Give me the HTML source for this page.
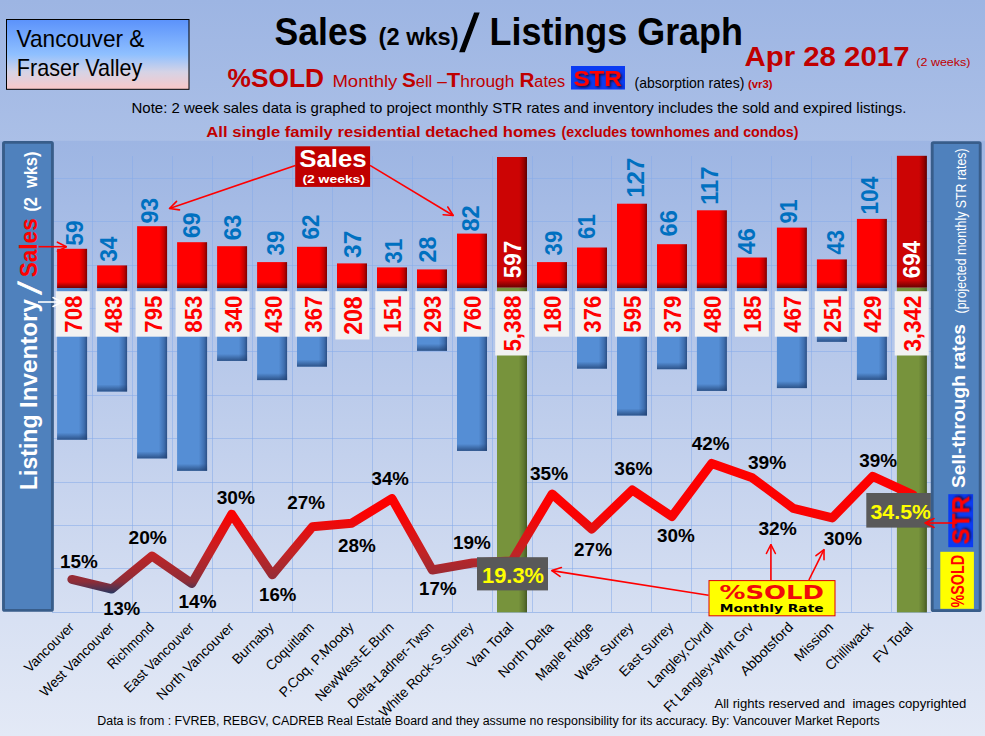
<!DOCTYPE html>
<html lang="en"><head><meta charset="utf-8"><title>Sales / Listings Graph</title>
<style>html,body{margin:0;padding:0;background:#9db5e3;}svg{display:block}text{font-family:"Liberation Sans",Arial,sans-serif;white-space:pre}.dj{font-family:"DejaVu Sans","Liberation Sans",sans-serif}</style></head><body>
<svg width="985" height="736" viewBox="0 0 985 736">
<defs>
<linearGradient id="bg" x1="0" y1="0" x2="0" y2="1"><stop offset="0" stop-color="#9db5e3"/><stop offset="1" stop-color="#e3e9f6"/></linearGradient>
<linearGradient id="plot" x1="0" y1="0" x2="0" y2="1"><stop offset="0" stop-color="#9db5e3"/><stop offset="1" stop-color="#d6dff2"/></linearGradient>
<linearGradient id="vbox" x1="0" y1="0" x2="0" y2="1"><stop offset="0" stop-color="#5b92fb"/><stop offset="0.5" stop-color="#8fc0ff"/><stop offset="0.75" stop-color="#d5d3e6"/><stop offset="1" stop-color="#fac8c8"/></linearGradient>
<linearGradient id="redh" x1="0" y1="0" x2="1" y2="0"><stop offset="0" stop-color="#f00"/><stop offset="0.74" stop-color="#f00"/><stop offset="0.9" stop-color="#c40000"/><stop offset="1" stop-color="#7c0000"/></linearGradient>
<linearGradient id="dredh" x1="0" y1="0" x2="1" y2="0"><stop offset="0" stop-color="#cc0404"/><stop offset="0.74" stop-color="#cc0404"/><stop offset="0.9" stop-color="#960000"/><stop offset="1" stop-color="#5c0000"/></linearGradient>
<linearGradient id="botsh" x1="0" y1="0" x2="0" y2="1"><stop offset="0" stop-color="#400" stop-opacity="0"/><stop offset="1" stop-color="#400" stop-opacity="0.72"/></linearGradient>
<linearGradient id="blueh" x1="0" y1="0" x2="1" y2="0"><stop offset="0" stop-color="#558ed5"/><stop offset="0.72" stop-color="#558ed5"/><stop offset="0.9" stop-color="#3f6fb0"/><stop offset="1" stop-color="#2b4f85"/></linearGradient>
<linearGradient id="bbotsh" x1="0" y1="0" x2="0" y2="1"><stop offset="0" stop-color="#1f3f70" stop-opacity="0"/><stop offset="1" stop-color="#1f3f70" stop-opacity="0.75"/></linearGradient>
<linearGradient id="greenh" x1="0" y1="0" x2="1" y2="0"><stop offset="0" stop-color="#77933c"/><stop offset="0.72" stop-color="#77933c"/><stop offset="0.9" stop-color="#5d7530"/><stop offset="1" stop-color="#445822"/></linearGradient>
<linearGradient id="lineg" gradientUnits="userSpaceOnUse" x1="0" y1="455" x2="0" y2="596"><stop offset="0" stop-color="#ff0000"/><stop offset="0.42" stop-color="#fb0202"/><stop offset="0.7" stop-color="#c02426"/><stop offset="0.9" stop-color="#8d2d38"/><stop offset="0.99" stop-color="#1f3864"/></linearGradient>
<marker id="ah" viewBox="0 0 12 12" refX="11" refY="6" markerWidth="12" markerHeight="12" markerUnits="userSpaceOnUse" orient="auto"><path d="M2,1.5 L11,6 L2,10.5" fill="none" stroke="#f00" stroke-width="1.6" stroke-linecap="round" stroke-linejoin="round"/></marker>
<marker id="ahw" viewBox="0 0 12 12" refX="11" refY="6" markerWidth="12" markerHeight="12" markerUnits="userSpaceOnUse" orient="auto"><path d="M2,1.5 L11,6 L2,10.5" fill="none" stroke="#fff" stroke-width="1.6" stroke-linecap="round" stroke-linejoin="round"/></marker>
<filter id="sh" x="-20%" y="-20%" width="150%" height="150%"><feDropShadow dx="1.4" dy="1.4" stdDeviation="0.9" flood-color="#200" flood-opacity="0.85"/></filter>
</defs>
<rect width="985" height="736" fill="url(#bg)"/>
<rect x="0" y="140.8" width="985" height="471.4" fill="url(#plot)"/>
<path d="M52,178.5H931 M52,221.5H931 M52,265.5H931 M52,308.5H931 M52,351.5H931 M52,395.5H931 M52,438.5H931 M52,482.5H931 M52,525.5H931 M52,568.5H931 M92.5,156V612 M132.5,156V612 M172.5,156V612 M212.5,156V612 M252.5,156V612 M292.5,156V612 M332.5,156V612 M372.5,156V612 M412.5,156V612 M452.5,156V612 M492.5,156V612 M532.5,156V612 M572.5,156V612 M611.5,156V612 M651.5,156V612 M691.5,156V612 M731.5,156V612 M771.5,156V612 M811.5,156V612 M851.5,156V612 M891.5,156V612" stroke="#86abea" stroke-width="1" fill="none" opacity="0.55"/>
<path d="M52,612.5H931" stroke="#a3bdea" stroke-width="1" fill="none"/>
<rect x="57.1" y="288.0" width="30" height="151.7" fill="url(#blueh)"/>
<rect x="57.1" y="432.7" width="30" height="7.0" fill="url(#bbotsh)"/>
<rect x="97.1" y="288.0" width="30" height="103.5" fill="url(#blueh)"/>
<rect x="97.1" y="384.5" width="30" height="7.0" fill="url(#bbotsh)"/>
<rect x="137.1" y="288.0" width="30" height="170.4" fill="url(#blueh)"/>
<rect x="137.1" y="451.4" width="30" height="7.0" fill="url(#bbotsh)"/>
<rect x="177.1" y="288.0" width="30" height="182.8" fill="url(#blueh)"/>
<rect x="177.1" y="463.8" width="30" height="7.0" fill="url(#bbotsh)"/>
<rect x="217.1" y="288.0" width="30" height="72.9" fill="url(#blueh)"/>
<rect x="217.1" y="353.9" width="30" height="7.0" fill="url(#bbotsh)"/>
<rect x="257.1" y="288.0" width="30" height="92.1" fill="url(#blueh)"/>
<rect x="257.1" y="373.1" width="30" height="7.0" fill="url(#bbotsh)"/>
<rect x="297.0" y="288.0" width="30" height="78.6" fill="url(#blueh)"/>
<rect x="297.0" y="359.6" width="30" height="7.0" fill="url(#bbotsh)"/>
<rect x="337.0" y="288.0" width="30" height="44.6" fill="url(#blueh)"/>
<rect x="337.0" y="325.6" width="30" height="7.0" fill="url(#bbotsh)"/>
<rect x="377.0" y="288.0" width="30" height="32.4" fill="url(#blueh)"/>
<rect x="377.0" y="313.4" width="30" height="7.0" fill="url(#bbotsh)"/>
<rect x="417.0" y="288.0" width="30" height="62.8" fill="url(#blueh)"/>
<rect x="417.0" y="343.8" width="30" height="7.0" fill="url(#bbotsh)"/>
<rect x="457.0" y="288.0" width="30" height="162.9" fill="url(#blueh)"/>
<rect x="457.0" y="443.9" width="30" height="7.0" fill="url(#bbotsh)"/>
<rect x="497.0" y="287.4" width="30" height="325.0" fill="url(#greenh)"/>
<rect x="537.0" y="288.0" width="30" height="38.6" fill="url(#blueh)"/>
<rect x="537.0" y="319.6" width="30" height="7.0" fill="url(#bbotsh)"/>
<rect x="577.0" y="288.0" width="30" height="80.6" fill="url(#blueh)"/>
<rect x="577.0" y="361.6" width="30" height="7.0" fill="url(#bbotsh)"/>
<rect x="617.0" y="288.0" width="30" height="127.5" fill="url(#blueh)"/>
<rect x="617.0" y="408.5" width="30" height="7.0" fill="url(#bbotsh)"/>
<rect x="657.0" y="288.0" width="30" height="81.2" fill="url(#blueh)"/>
<rect x="657.0" y="362.2" width="30" height="7.0" fill="url(#bbotsh)"/>
<rect x="696.9" y="288.0" width="30" height="102.9" fill="url(#blueh)"/>
<rect x="696.9" y="383.9" width="30" height="7.0" fill="url(#bbotsh)"/>
<rect x="736.9" y="288.0" width="30" height="39.6" fill="url(#blueh)"/>
<rect x="736.9" y="320.6" width="30" height="7.0" fill="url(#bbotsh)"/>
<rect x="776.9" y="288.0" width="30" height="100.1" fill="url(#blueh)"/>
<rect x="776.9" y="381.1" width="30" height="7.0" fill="url(#bbotsh)"/>
<rect x="816.9" y="288.0" width="30" height="53.8" fill="url(#blueh)"/>
<rect x="816.9" y="334.8" width="30" height="7.0" fill="url(#bbotsh)"/>
<rect x="856.9" y="288.0" width="30" height="91.9" fill="url(#blueh)"/>
<rect x="856.9" y="372.9" width="30" height="7.0" fill="url(#bbotsh)"/>
<rect x="896.9" y="287.4" width="30" height="325.0" fill="url(#greenh)"/>
<rect x="57.1" y="248.8" width="30" height="39.2" fill="url(#redh)"/>
<rect x="57.1" y="282.0" width="30" height="6" fill="url(#botsh)"/>
<rect x="97.1" y="265.4" width="30" height="22.6" fill="url(#redh)"/>
<rect x="97.1" y="282.0" width="30" height="6" fill="url(#botsh)"/>
<rect x="137.1" y="226.2" width="30" height="61.8" fill="url(#redh)"/>
<rect x="137.1" y="282.0" width="30" height="6" fill="url(#botsh)"/>
<rect x="177.1" y="242.2" width="30" height="45.8" fill="url(#redh)"/>
<rect x="177.1" y="282.0" width="30" height="6" fill="url(#botsh)"/>
<rect x="217.1" y="246.2" width="30" height="41.8" fill="url(#redh)"/>
<rect x="217.1" y="282.0" width="30" height="6" fill="url(#botsh)"/>
<rect x="257.1" y="262.1" width="30" height="25.9" fill="url(#redh)"/>
<rect x="257.1" y="282.0" width="30" height="6" fill="url(#botsh)"/>
<rect x="297.0" y="246.8" width="30" height="41.2" fill="url(#redh)"/>
<rect x="297.0" y="282.0" width="30" height="6" fill="url(#botsh)"/>
<rect x="337.0" y="263.4" width="30" height="24.6" fill="url(#redh)"/>
<rect x="337.0" y="282.0" width="30" height="6" fill="url(#botsh)"/>
<rect x="377.0" y="267.4" width="30" height="20.6" fill="url(#redh)"/>
<rect x="377.0" y="282.0" width="30" height="6" fill="url(#botsh)"/>
<rect x="417.0" y="269.4" width="30" height="18.6" fill="url(#redh)"/>
<rect x="417.0" y="282.0" width="30" height="6" fill="url(#botsh)"/>
<rect x="457.0" y="233.6" width="30" height="54.4" fill="url(#redh)"/>
<rect x="457.0" y="282.0" width="30" height="6" fill="url(#botsh)"/>
<rect x="497.0" y="157.0" width="30" height="130.4" fill="url(#dredh)"/>
<rect x="497.0" y="280.4" width="30" height="7" fill="url(#botsh)"/>
<rect x="537.0" y="262.1" width="30" height="25.9" fill="url(#redh)"/>
<rect x="537.0" y="282.0" width="30" height="6" fill="url(#botsh)"/>
<rect x="577.0" y="247.5" width="30" height="40.5" fill="url(#redh)"/>
<rect x="577.0" y="282.0" width="30" height="6" fill="url(#botsh)"/>
<rect x="617.0" y="203.7" width="30" height="84.3" fill="url(#redh)"/>
<rect x="617.0" y="282.0" width="30" height="6" fill="url(#botsh)"/>
<rect x="657.0" y="244.2" width="30" height="43.8" fill="url(#redh)"/>
<rect x="657.0" y="282.0" width="30" height="6" fill="url(#botsh)"/>
<rect x="696.9" y="210.3" width="30" height="77.7" fill="url(#redh)"/>
<rect x="696.9" y="282.0" width="30" height="6" fill="url(#botsh)"/>
<rect x="736.9" y="257.5" width="30" height="30.5" fill="url(#redh)"/>
<rect x="736.9" y="282.0" width="30" height="6" fill="url(#botsh)"/>
<rect x="776.9" y="227.6" width="30" height="60.4" fill="url(#redh)"/>
<rect x="776.9" y="282.0" width="30" height="6" fill="url(#botsh)"/>
<rect x="816.9" y="259.4" width="30" height="28.6" fill="url(#redh)"/>
<rect x="816.9" y="282.0" width="30" height="6" fill="url(#botsh)"/>
<rect x="856.9" y="218.9" width="30" height="69.1" fill="url(#redh)"/>
<rect x="856.9" y="282.0" width="30" height="6" fill="url(#botsh)"/>
<rect x="896.9" y="155.8" width="30" height="131.6" fill="url(#dredh)"/>
<rect x="896.9" y="280.4" width="30" height="7" fill="url(#botsh)"/>
<rect x="55.7" y="291.2" width="34" height="45.5" fill="#f2f2f2"/>
<text transform="translate(81.8,332.7) rotate(-90)" font-size="24" font-weight="bold" fill="#ff0000" textLength="37" lengthAdjust="spacingAndGlyphs">708</text>
<rect x="95.7" y="291.2" width="34" height="45.5" fill="#f2f2f2"/>
<text transform="translate(121.8,332.7) rotate(-90)" font-size="24" font-weight="bold" fill="#ff0000" textLength="37" lengthAdjust="spacingAndGlyphs">483</text>
<rect x="135.6" y="291.2" width="34" height="45.5" fill="#f2f2f2"/>
<text transform="translate(161.7,332.7) rotate(-90)" font-size="24" font-weight="bold" fill="#ff0000" textLength="37" lengthAdjust="spacingAndGlyphs">795</text>
<rect x="175.6" y="291.2" width="34" height="45.5" fill="#f2f2f2"/>
<text transform="translate(201.7,332.7) rotate(-90)" font-size="24" font-weight="bold" fill="#ff0000" textLength="37" lengthAdjust="spacingAndGlyphs">853</text>
<rect x="215.5" y="291.2" width="34" height="45.5" fill="#f2f2f2"/>
<text transform="translate(241.6,332.7) rotate(-90)" font-size="24" font-weight="bold" fill="#ff0000" textLength="37" lengthAdjust="spacingAndGlyphs">340</text>
<rect x="255.5" y="291.2" width="34" height="45.5" fill="#f2f2f2"/>
<text transform="translate(281.6,332.7) rotate(-90)" font-size="24" font-weight="bold" fill="#ff0000" textLength="37" lengthAdjust="spacingAndGlyphs">430</text>
<rect x="295.4" y="291.2" width="34" height="45.5" fill="#f2f2f2"/>
<text transform="translate(321.5,332.7) rotate(-90)" font-size="24" font-weight="bold" fill="#ff0000" textLength="37" lengthAdjust="spacingAndGlyphs">367</text>
<rect x="335.4" y="291.2" width="34" height="48.3" fill="#f2f2f2"/>
<text transform="translate(361.5,334.8) rotate(-90)" font-size="25" font-weight="bold" fill="#ff0000" textLength="38.5" lengthAdjust="spacingAndGlyphs">208</text>
<rect x="375.3" y="291.2" width="34" height="45.5" fill="#f2f2f2"/>
<text transform="translate(401.4,332.7) rotate(-90)" font-size="24" font-weight="bold" fill="#ff0000" textLength="37" lengthAdjust="spacingAndGlyphs">151</text>
<rect x="415.3" y="291.2" width="34" height="45.5" fill="#f2f2f2"/>
<text transform="translate(441.4,332.7) rotate(-90)" font-size="24" font-weight="bold" fill="#ff0000" textLength="37" lengthAdjust="spacingAndGlyphs">293</text>
<rect x="455.2" y="291.2" width="34" height="45.5" fill="#f2f2f2"/>
<text transform="translate(481.3,332.7) rotate(-90)" font-size="24" font-weight="bold" fill="#ff0000" textLength="37" lengthAdjust="spacingAndGlyphs">760</text>
<rect x="495.2" y="291.2" width="34" height="64.3" fill="#f2f2f2"/>
<text transform="translate(521.3,351.6) rotate(-90)" font-size="24" font-weight="bold" fill="#ff0000" textLength="56" lengthAdjust="spacingAndGlyphs">5,388</text>
<rect x="535.1" y="291.2" width="34" height="45.5" fill="#f2f2f2"/>
<text transform="translate(561.2,332.7) rotate(-90)" font-size="24" font-weight="bold" fill="#ff0000" textLength="37" lengthAdjust="spacingAndGlyphs">180</text>
<rect x="575.1" y="291.2" width="34" height="45.5" fill="#f2f2f2"/>
<text transform="translate(601.2,332.7) rotate(-90)" font-size="24" font-weight="bold" fill="#ff0000" textLength="37" lengthAdjust="spacingAndGlyphs">376</text>
<rect x="615.0" y="291.2" width="34" height="45.5" fill="#f2f2f2"/>
<text transform="translate(641.1,332.7) rotate(-90)" font-size="24" font-weight="bold" fill="#ff0000" textLength="37" lengthAdjust="spacingAndGlyphs">595</text>
<rect x="655.0" y="291.2" width="34" height="45.5" fill="#f2f2f2"/>
<text transform="translate(681.1,332.7) rotate(-90)" font-size="24" font-weight="bold" fill="#ff0000" textLength="37" lengthAdjust="spacingAndGlyphs">379</text>
<rect x="694.9" y="291.2" width="34" height="45.5" fill="#f2f2f2"/>
<text transform="translate(721.0,332.7) rotate(-90)" font-size="24" font-weight="bold" fill="#ff0000" textLength="37" lengthAdjust="spacingAndGlyphs">480</text>
<rect x="734.9" y="291.2" width="34" height="45.5" fill="#f2f2f2"/>
<text transform="translate(761.0,332.7) rotate(-90)" font-size="24" font-weight="bold" fill="#ff0000" textLength="37" lengthAdjust="spacingAndGlyphs">185</text>
<rect x="774.8" y="291.2" width="34" height="45.5" fill="#f2f2f2"/>
<text transform="translate(800.9,332.7) rotate(-90)" font-size="24" font-weight="bold" fill="#ff0000" textLength="37" lengthAdjust="spacingAndGlyphs">467</text>
<rect x="814.8" y="291.2" width="34" height="45.5" fill="#f2f2f2"/>
<text transform="translate(840.9,332.7) rotate(-90)" font-size="24" font-weight="bold" fill="#ff0000" textLength="37" lengthAdjust="spacingAndGlyphs">251</text>
<rect x="854.7" y="291.2" width="34" height="45.5" fill="#f2f2f2"/>
<text transform="translate(880.8,332.7) rotate(-90)" font-size="24" font-weight="bold" fill="#ff0000" textLength="37" lengthAdjust="spacingAndGlyphs">429</text>
<rect x="894.7" y="291.2" width="34" height="64.3" fill="#f2f2f2"/>
<text transform="translate(920.8,351.6) rotate(-90)" font-size="24" font-weight="bold" fill="#ff0000" textLength="56" lengthAdjust="spacingAndGlyphs">3,342</text>
<text transform="translate(82.6,245.8) rotate(-90)" font-size="23" font-weight="bold" fill="#0070c0" textLength="25.4" lengthAdjust="spacingAndGlyphs">59</text>
<text transform="translate(116.8,261.8) rotate(-90)" font-size="23" font-weight="bold" fill="#0070c0" textLength="25.2" lengthAdjust="spacingAndGlyphs">34</text>
<text transform="translate(157.6,223.6) rotate(-90)" font-size="23" font-weight="bold" fill="#0070c0" textLength="25.8" lengthAdjust="spacingAndGlyphs">93</text>
<text transform="translate(199.8,238.0) rotate(-90)" font-size="23" font-weight="bold" fill="#0070c0" textLength="25.6" lengthAdjust="spacingAndGlyphs">69</text>
<text transform="translate(241.0,240.2) rotate(-90)" font-size="23" font-weight="bold" fill="#0070c0" textLength="25.6" lengthAdjust="spacingAndGlyphs">63</text>
<text transform="translate(283.5,255.4) rotate(-90)" font-size="23" font-weight="bold" fill="#0070c0" textLength="24.6" lengthAdjust="spacingAndGlyphs">39</text>
<text transform="translate(318.7,239.6) rotate(-90)" font-size="23" font-weight="bold" fill="#0070c0" textLength="25.0" lengthAdjust="spacingAndGlyphs">62</text>
<text transform="translate(360.5,258.0) rotate(-90)" font-size="24" font-weight="bold" fill="#0070c0" textLength="27.4" lengthAdjust="spacingAndGlyphs">37</text>
<text transform="translate(401.6,263.4) rotate(-90)" font-size="23" font-weight="bold" fill="#0070c0" textLength="24.6" lengthAdjust="spacingAndGlyphs">31</text>
<text transform="translate(436.0,262.6) rotate(-90)" font-size="23" font-weight="bold" fill="#0070c0" textLength="26.0" lengthAdjust="spacingAndGlyphs">28</text>
<text transform="translate(479.2,231.6) rotate(-90)" font-size="23" font-weight="bold" fill="#0070c0" textLength="26.4" lengthAdjust="spacingAndGlyphs">82</text>
<text transform="translate(520.7,278.3) rotate(-90)" font-size="23.5" font-weight="bold" fill="#fff" textLength="37.5" lengthAdjust="spacingAndGlyphs">597</text>
<text transform="translate(561.6,255.4) rotate(-90)" font-size="23" font-weight="bold" fill="#0070c0" textLength="24.6" lengthAdjust="spacingAndGlyphs">39</text>
<text transform="translate(594.6,239.0) rotate(-90)" font-size="23" font-weight="bold" fill="#0070c0" textLength="24.8" lengthAdjust="spacingAndGlyphs">61</text>
<text transform="translate(644.2,197.8) rotate(-90)" font-size="23" font-weight="bold" fill="#0070c0" textLength="40.2" lengthAdjust="spacingAndGlyphs">127</text>
<text transform="translate(677.3,236.4) rotate(-90)" font-size="23" font-weight="bold" fill="#0070c0" textLength="26.4" lengthAdjust="spacingAndGlyphs">66</text>
<text transform="translate(718.0,204.8) rotate(-90)" font-size="23" font-weight="bold" fill="#0070c0" textLength="38.2" lengthAdjust="spacingAndGlyphs">117</text>
<text transform="translate(755.2,254.2) rotate(-90)" font-size="23" font-weight="bold" fill="#0070c0" textLength="26.0" lengthAdjust="spacingAndGlyphs">46</text>
<text transform="translate(796.9,223.4) rotate(-90)" font-size="23" font-weight="bold" fill="#0070c0" textLength="24.0" lengthAdjust="spacingAndGlyphs">91</text>
<text transform="translate(844.2,254.4) rotate(-90)" font-size="23" font-weight="bold" fill="#0070c0" textLength="24.4" lengthAdjust="spacingAndGlyphs">43</text>
<text transform="translate(878.0,214.6) rotate(-90)" font-size="23" font-weight="bold" fill="#0070c0" textLength="38.0" lengthAdjust="spacingAndGlyphs">104</text>
<text transform="translate(920.2,278.3) rotate(-90)" font-size="23.5" font-weight="bold" fill="#fff" textLength="37.5" lengthAdjust="spacingAndGlyphs">694</text>
<polyline points="71.9,579.4 111.8,589.0 152,556.0 191.8,583.5 231.7,514.2 272.3,574.8 312.4,526.8 351.8,523.2 391.9,498.5 432.3,570 472.5,563 512,561 552.1,494 591.8,529 632.3,490 671.9,516.5 711.7,463.4 752.3,477.8 793.3,508.3 832.3,517.9 872.7,476.3 913,494.9" fill="none" stroke="url(#lineg)" stroke-width="9" stroke-linejoin="round" stroke-linecap="round"/>
<text x="60.0" y="568.3" font-size="18" font-weight="bold" fill="#000" textLength="37.8" lengthAdjust="spacingAndGlyphs">15%</text>
<text x="103.2" y="615.3" font-size="18" font-weight="bold" fill="#000" textLength="37.0" lengthAdjust="spacingAndGlyphs">13%</text>
<text x="128.5" y="543.7" font-size="18" font-weight="bold" fill="#000" textLength="38.4" lengthAdjust="spacingAndGlyphs">20%</text>
<text x="178.6" y="607.7" font-size="18" font-weight="bold" fill="#000" textLength="37.9" lengthAdjust="spacingAndGlyphs">14%</text>
<text x="216.7" y="504.0" font-size="18" font-weight="bold" fill="#000" textLength="38.3" lengthAdjust="spacingAndGlyphs">30%</text>
<text x="259.1" y="601.3" font-size="18" font-weight="bold" fill="#000" textLength="37.3" lengthAdjust="spacingAndGlyphs">16%</text>
<text x="287.3" y="509.4" font-size="18" font-weight="bold" fill="#000" textLength="37.8" lengthAdjust="spacingAndGlyphs">27%</text>
<text x="338.1" y="552.3" font-size="18" font-weight="bold" fill="#000" textLength="37.8" lengthAdjust="spacingAndGlyphs">28%</text>
<text x="371.6" y="485.2" font-size="18" font-weight="bold" fill="#000" textLength="37.3" lengthAdjust="spacingAndGlyphs">34%</text>
<text x="419.1" y="595.0" font-size="18" font-weight="bold" fill="#000" textLength="37.4" lengthAdjust="spacingAndGlyphs">17%</text>
<text x="452.9" y="548.5" font-size="18" font-weight="bold" fill="#000" textLength="37.8" lengthAdjust="spacingAndGlyphs">19%</text>
<text x="530.0" y="479.6" font-size="18" font-weight="bold" fill="#000" textLength="38.1" lengthAdjust="spacingAndGlyphs">35%</text>
<text x="574.1" y="555.8" font-size="18" font-weight="bold" fill="#000" textLength="37.9" lengthAdjust="spacingAndGlyphs">27%</text>
<text x="614.3" y="474.8" font-size="18" font-weight="bold" fill="#000" textLength="38.2" lengthAdjust="spacingAndGlyphs">36%</text>
<text x="657.1" y="541.8" font-size="18" font-weight="bold" fill="#000" textLength="37.8" lengthAdjust="spacingAndGlyphs">30%</text>
<text x="691.7" y="449.8" font-size="18" font-weight="bold" fill="#000" textLength="37.7" lengthAdjust="spacingAndGlyphs">42%</text>
<text x="747.9" y="468.8" font-size="18" font-weight="bold" fill="#000" textLength="38.4" lengthAdjust="spacingAndGlyphs">39%</text>
<text x="758.4" y="534.7" font-size="18" font-weight="bold" fill="#000" textLength="38.4" lengthAdjust="spacingAndGlyphs">32%</text>
<text x="823.7" y="545.2" font-size="18" font-weight="bold" fill="#000" textLength="38.4" lengthAdjust="spacingAndGlyphs">30%</text>
<text x="859.3" y="467.0" font-size="18" font-weight="bold" fill="#000" textLength="37.8" lengthAdjust="spacingAndGlyphs">39%</text>
<rect x="477" y="557.2" width="71" height="33.2" fill="#595959"/>
<text x="482" y="582.5" font-size="22" font-weight="bold" fill="#ffff00" textLength="62" lengthAdjust="spacingAndGlyphs">19.3%</text>
<rect x="866.3" y="493" width="64.6" height="34.6" fill="#595959"/>
<text x="870.5" y="518.8" font-size="21" font-weight="bold" fill="#ffff00" textLength="60.5" lengthAdjust="spacingAndGlyphs">34.5%</text>
<rect x="3.5" y="142.4" width="48.9" height="468" rx="1.2" fill="#4f81bd" stroke="#385d8a" stroke-width="2.9"/>
<rect x="932.2" y="142.6" width="48" height="468" rx="1.2" fill="#4f81bd" stroke="#385d8a" stroke-width="2.9"/>
<text transform="translate(36.8,490) rotate(-90)" font-weight="bold" fill="#fff" font-size="24" textLength="75.5" lengthAdjust="spacingAndGlyphs">Listing</text>
<text transform="translate(36.8,408) rotate(-90)" font-weight="bold" fill="#fff" font-size="24" textLength="109" lengthAdjust="spacingAndGlyphs">Inventory</text>
<text transform="translate(40.6,294.6) rotate(-90) skewX(-10)" fill="#fff" stroke="#fff" stroke-width="0.9" font-size="32">/</text>
<text transform="translate(36.8,277.3) rotate(-90)" font-weight="bold" fill="#ff0000" font-size="24" textLength="59" lengthAdjust="spacingAndGlyphs">Sales</text>
<text transform="translate(37.4,211.6) rotate(-90)" font-weight="bold" fill="#fff" font-size="18" textLength="60" lengthAdjust="spacingAndGlyphs">(2  wks)</text>
<text transform="translate(965.2,488) rotate(-90)" fill="#fff" font-size="19" font-weight="bold" textLength="164" lengthAdjust="spacingAndGlyphs">Sell-through rates</text>
<text transform="translate(965.6,313.4) rotate(-90)" fill="#fff" font-size="14.4" textLength="165" lengthAdjust="spacingAndGlyphs">(projected monthly STR rates)</text>
<rect x="948.3" y="494.2" width="24.8" height="53" fill="#0b3bf2"/>
<text transform="translate(969.2,544.6) rotate(-90)" font-size="24.5" font-weight="bold" fill="#ff0000" filter="url(#sh)" textLength="48.5" lengthAdjust="spacingAndGlyphs">STR</text>
<rect x="940.3" y="551.8" width="33.6" height="57" fill="#ffff00"/>
<text transform="translate(963.6,607.4) rotate(-90)" font-size="17.5" font-weight="bold" fill="#ff0000" textLength="52.5" lengthAdjust="spacingAndGlyphs">%SOLD</text>
<line x1="295.4" y1="165.4" x2="169.5" y2="208.5" stroke="#f00" stroke-width="1.6" marker-end="url(#ah)"/>
<line x1="370" y1="165.4" x2="453.2" y2="215.5" stroke="#f00" stroke-width="1.6" marker-end="url(#ah)"/>
<line x1="38.6" y1="246.7" x2="66.4" y2="246.7" stroke="#f00" stroke-width="1.6" marker-end="url(#ah)"/>
<line x1="38" y1="302" x2="62" y2="302" stroke="#fff" stroke-width="1.6" marker-end="url(#ahw)"/>
<line x1="708.5" y1="595.2" x2="551.8" y2="570.6" stroke="#f00" stroke-width="1.6" marker-end="url(#ah)"/>
<line x1="770.9" y1="580" x2="770.9" y2="544.5" stroke="#f00" stroke-width="1.6" marker-end="url(#ah)"/>
<line x1="808.9" y1="580" x2="824" y2="549.6" stroke="#f00" stroke-width="1.6" marker-end="url(#ah)"/>
<line x1="956.8" y1="523" x2="925" y2="523" stroke="#f00" stroke-width="1.6" marker-end="url(#ah)"/>
<rect x="295.2" y="146.3" width="74.9" height="40.6" fill="#c00000"/>
<text x="299.2" y="166.7" font-size="24.5" font-weight="bold" fill="#fff" textLength="67.4" lengthAdjust="spacingAndGlyphs">Sales</text>
<text x="302.4" y="183" font-size="11.8" font-weight="bold" fill="#fff" textLength="62.6" lengthAdjust="spacingAndGlyphs">(2 weeks)</text>
<rect x="709" y="580.6" width="126" height="35.2" fill="#ffff00" stroke="#e00000" stroke-width="1"/>
<text x="719.5" y="598.8" class="dj" font-size="19.3" font-weight="bold" fill="#f00a0a" textLength="104.5" lengthAdjust="spacingAndGlyphs">%SOLD</text>
<text x="719.8" y="611.7" class="dj" font-size="10.8" font-weight="bold" fill="#000" textLength="103.8" lengthAdjust="spacingAndGlyphs">Monthly Rate</text>
<text transform="translate(75.0,628) rotate(-45)" text-anchor="end" font-size="13.8" fill="#000" textLength="64.1" lengthAdjust="spacingAndGlyphs">Vancouver</text>
<text transform="translate(115.0,628) rotate(-45)" text-anchor="end" font-size="13.8" fill="#000" textLength="98.3" lengthAdjust="spacingAndGlyphs">West Vancouver</text>
<text transform="translate(154.9,628) rotate(-45)" text-anchor="end" font-size="13.8" fill="#000" textLength="59.5" lengthAdjust="spacingAndGlyphs">Richmond</text>
<text transform="translate(194.9,628) rotate(-45)" text-anchor="end" font-size="13.8" fill="#000" textLength="92.6" lengthAdjust="spacingAndGlyphs">East Vancouver</text>
<text transform="translate(234.8,628) rotate(-45)" text-anchor="end" font-size="13.8" fill="#000" textLength="102.8" lengthAdjust="spacingAndGlyphs">North Vancouver</text>
<text transform="translate(274.8,628) rotate(-45)" text-anchor="end" font-size="13.8" fill="#000" textLength="52.5" lengthAdjust="spacingAndGlyphs">Burnaby</text>
<text transform="translate(314.7,628) rotate(-45)" text-anchor="end" font-size="13.8" fill="#000" textLength="61.5" lengthAdjust="spacingAndGlyphs">Coquitlam</text>
<text transform="translate(354.7,628) rotate(-45)" text-anchor="end" font-size="13.8" fill="#000" textLength="99.0" lengthAdjust="spacingAndGlyphs">P.Coq, P.Moody</text>
<text transform="translate(394.6,628) rotate(-45)" text-anchor="end" font-size="13.8" fill="#000" textLength="104.6" lengthAdjust="spacingAndGlyphs">NewWest-E.Burn</text>
<text transform="translate(434.6,628) rotate(-45)" text-anchor="end" font-size="13.8" fill="#000" textLength="115.0" lengthAdjust="spacingAndGlyphs">Delta-Ladner-Twsn</text>
<text transform="translate(474.5,628) rotate(-45)" text-anchor="end" font-size="13.8" fill="#000" textLength="127.1" lengthAdjust="spacingAndGlyphs">White Rock-S.Surrey</text>
<text transform="translate(514.5,628) rotate(-45)" text-anchor="end" font-size="13.8" fill="#000" textLength="58.7" lengthAdjust="spacingAndGlyphs">Van Total</text>
<text transform="translate(554.4,628) rotate(-45)" text-anchor="end" font-size="13.8" fill="#000" textLength="71.6" lengthAdjust="spacingAndGlyphs">North Delta</text>
<text transform="translate(594.4,628) rotate(-45)" text-anchor="end" font-size="13.8" fill="#000" textLength="75.5" lengthAdjust="spacingAndGlyphs">Maple Ridge</text>
<text transform="translate(634.3,628) rotate(-45)" text-anchor="end" font-size="13.8" fill="#000" textLength="75.8" lengthAdjust="spacingAndGlyphs">West Surrey</text>
<text transform="translate(674.3,628) rotate(-45)" text-anchor="end" font-size="13.8" fill="#000" textLength="70.0" lengthAdjust="spacingAndGlyphs">East Surrey</text>
<text transform="translate(714.2,628) rotate(-45)" text-anchor="end" font-size="13.8" fill="#000" textLength="86.1" lengthAdjust="spacingAndGlyphs">Langley,Clvrdl</text>
<text transform="translate(754.2,628) rotate(-45)" text-anchor="end" font-size="13.8" fill="#000" textLength="120.3" lengthAdjust="spacingAndGlyphs">Ft Langley-Wlnt Grv</text>
<text transform="translate(794.1,628) rotate(-45)" text-anchor="end" font-size="13.8" fill="#000" textLength="68.5" lengthAdjust="spacingAndGlyphs">Abbotsford</text>
<text transform="translate(834.1,628) rotate(-45)" text-anchor="end" font-size="13.8" fill="#000" textLength="48.6" lengthAdjust="spacingAndGlyphs">Mission</text>
<text transform="translate(874.0,628) rotate(-45)" text-anchor="end" font-size="13.8" fill="#000" textLength="61.2" lengthAdjust="spacingAndGlyphs">Chilliwack</text>
<text transform="translate(914.0,628) rotate(-45)" text-anchor="end" font-size="13.8" fill="#000" textLength="50.2" lengthAdjust="spacingAndGlyphs">FV Total</text>
<rect x="6.5" y="19.5" width="182.5" height="69.8" fill="url(#vbox)" stroke="#000" stroke-width="1"/>
<text x="16.6" y="46.7" font-size="23.2" fill="#000" textLength="127.8" lengthAdjust="spacingAndGlyphs">Vancouver &amp;</text>
<text x="16.8" y="76.1" font-size="23.2" fill="#000" textLength="125.6" lengthAdjust="spacingAndGlyphs">Fraser Valley</text>
<text x="274.6" y="44.6" font-size="38.5" font-weight="bold" fill="#000" textLength="93" lengthAdjust="spacingAndGlyphs">Sales</text>
<text x="378.6" y="44.6" font-size="23.3" font-weight="bold" fill="#000" textLength="80" lengthAdjust="spacingAndGlyphs">(2 wks)</text>
<text transform="translate(460.2,50.8) skewX(-6)" font-size="52" fill="#000" stroke="#000" stroke-width="1.5">/</text>
<text x="489.5" y="44.6" font-size="38.5" font-weight="bold" fill="#000" textLength="253.5" lengthAdjust="spacingAndGlyphs">Listings Graph</text>
<text x="744.5" y="65.7" font-size="28.2" font-weight="bold" fill="#c00000" textLength="165" lengthAdjust="spacingAndGlyphs">Apr 28 2017</text>
<text x="916.3" y="65.7" font-size="11.8" fill="#c00000" textLength="54.2" lengthAdjust="spacingAndGlyphs">(2 weeks)</text>
<text x="227.5" y="86.8" font-size="25.8" font-weight="bold" fill="#c00000" textLength="96.5" lengthAdjust="spacingAndGlyphs">%SOLD</text>
<text x="332.4" y="86.8" font-size="15.6" fill="#c00000" textLength="65" lengthAdjust="spacingAndGlyphs">Monthly</text>
<text x="402" y="86.8" font-size="15.6" fill="#c00000" textLength="30.2" lengthAdjust="spacingAndGlyphs"><tspan font-size="19.8" font-weight="bold">S</tspan>ell</text>
<text x="437.2" y="86.8" font-size="15.6" fill="#c00000" textLength="77.2" lengthAdjust="spacingAndGlyphs">–<tspan font-size="19.8" font-weight="bold">T</tspan>hrough</text>
<text x="519.4" y="86.8" font-size="15.6" fill="#c00000" textLength="45.8" lengthAdjust="spacingAndGlyphs"><tspan font-size="19.8" font-weight="bold">R</tspan>ates</text>
<rect x="571" y="66" width="54" height="23.5" fill="#0b3bf2"/>
<text x="573.4" y="86.1" font-size="21.8" font-weight="bold" fill="#ff0000" filter="url(#sh)" textLength="48.5" lengthAdjust="spacingAndGlyphs">STR</text>
<text x="634.5" y="87.6" font-size="14.3" fill="#000" textLength="109.8" lengthAdjust="spacingAndGlyphs">(absorption rates)</text>
<text x="748" y="87.5" font-size="10.5" font-weight="bold" fill="#c00000" textLength="24.5" lengthAdjust="spacingAndGlyphs">(vr3)</text>
<text x="131.5" y="112.7" font-size="14.1" fill="#000" textLength="774.8" lengthAdjust="spacingAndGlyphs">Note: 2 week sales data is graphed to project monthly STR rates and inventory includes the sold and expired listings.</text>
<text x="206.3" y="137.3" font-size="14.5" font-weight="bold" fill="#c00000" textLength="350" lengthAdjust="spacingAndGlyphs">All single family residential detached homes</text>
<text x="561.6" y="137.4" font-size="14" font-weight="bold" fill="#c00000" textLength="236.8" lengthAdjust="spacingAndGlyphs">(excludes townhomes and condos)</text>
<text x="714.4" y="708.4" font-size="13.2" fill="#000" textLength="252" lengthAdjust="spacingAndGlyphs">All rights reserved and  images copyrighted</text>
<text x="97.3" y="724.9" font-size="12" fill="#000" textLength="782.4" lengthAdjust="spacingAndGlyphs">Data is from : FVREB, REBGV, CADREB Real Estate Board and they assume no responsibility for its accuracy. By: Vancouver Market Reports</text>
</svg></body></html>
